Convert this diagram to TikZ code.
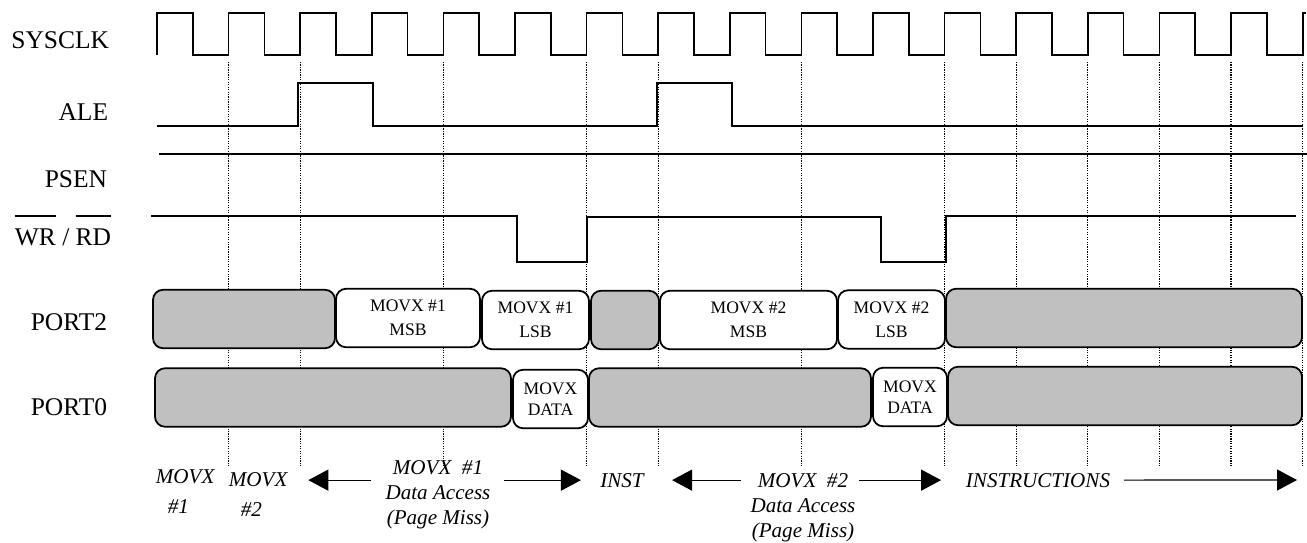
\documentclass[tikz,border=0pt]{standalone}
\usepackage{fontspec}
\setmainfont{Liberation Serif}
\usetikzlibrary{arrows.meta}
\definecolor{slotgray}{RGB}{192,192,192}
\newcommand{\sigbar}[1]{\setbox0\hbox{#1}\rlap{\rule[16pt]{\wd0}{0.9pt}}\box0\relax}

\begin{document}
\begin{tikzpicture}[x=0.02cm,y=-0.02cm,line width=1pt,
  lbl/.style={anchor=base east,inner sep=0,font=\fontsize{14.5}{17}\selectfont},
  slot/.style={draw,rounded corners=0.2cm,inner sep=0,align=center,minimum height=1.17cm},
  busy/.style={slot,fill=slotgray},
  addr/.style={slot,fill=white,font=\fontsize{10}{13.7}\selectfont},
  data/.style={slot,fill=white,font=\fontsize{10}{12.3}\selectfont},
  note/.style={inner sep=0,font=\itshape\fontsize{12}{14.2}\selectfont},
  tick/.style={line width=0.7pt,dash pattern=on 0.7pt off 0.7pt},
  span/.style={-{Triangle[length=0.4cm,width=0.42cm]},line width=0.7pt}]
\useasboundingbox (0,0) rectangle (1307,542);

% clock edges that are marked
\foreach \k in {1,2,4,6,7,9,11,12,13,14,15,16}
  \draw[tick] ({157+71.6*\k},62) -- ({157+71.6*\k},466);

% signal names
\node[lbl] (clk) at (110,48) {SYSCLK};
\node[lbl] (ale) at (109,120) {ALE};
\node[lbl] (psen) at (108,187) {PSEN};
\node[lbl] (wrrd) at (112,245) {\sigbar{WR} / \sigbar{RD}};
\node[lbl] (port2) at (108,330) {PORT2};
\node[lbl] (port0) at (108,415) {PORT0};

% waveforms
\draw (157,55) \foreach \k in {0,...,15}{ -- ++(0,-42) -- ++(35.8,0) -- ++(0,42) -- ++(35.8,0)} -- ++(0,-42) -- ++(3,0);
\draw (157,126) -- (298,126) -- (298,83) -- (373,83) -- (373,126) -- (657,126) -- (657,83) -- (732,83) -- (732,126) -- (1303,126);
\draw (159,154) -- (1307,154);
\draw (151,216) -- (517,216) -- (517,262) -- (587,262) -- (587,217) -- (881,217) -- (881,262) -- (946,262) -- (946,216) -- (1296,216);

% PORT2
\node[busy,minimum width=3.64cm] (p2a) at (244,319) {};
\node[addr,minimum width=2.88cm] (p2b) at (408,318) {MOVX \#1\\MSB};
\node[addr,minimum width=2.14cm] (p2c) at (535.5,320) {MOVX \#1\\LSB};
\node[busy,minimum width=1.36cm] (p2d) at (625,320) {};
\node[addr,minimum width=3.54cm] (p2e) at (748.5,320) {MOVX \#2\\MSB};
\node[addr,minimum width=2.14cm] (p2f) at (891.5,319.5) {MOVX \#2\\LSB};
\node[busy,minimum width=7.12cm] (p2g) at (1124,318) {};

% PORT0
\node[busy,minimum width=7.12cm] (p0a) at (333,397.5) {};
\node[data,minimum width=1.5cm] (p0b) at (550.5,399) {MOVX\\DATA};
\node[busy,minimum width=5.64cm] (p0c) at (730,397.5) {};
\node[data,minimum width=1.48cm] (p0d) at (910,397) {MOVX\\DATA};
\node[busy,minimum width=7.08cm] (p0e) at (1125,396) {};

% phases
\node[note,align=left,anchor=north west,font=\itshape\fontsize{12}{17}\selectfont] (m1) at (155,469) {MOVX\\\hspace*{0.24cm}\#1};
\node[note,align=left,anchor=north west,font=\itshape\fontsize{12}{17}\selectfont] (m2) at (228,472) {MOVX\\\hspace*{0.24cm}\#2};
\node[note,align=center,anchor=north] (acc1) at (438,460) {MOVX~~\#1\\Data Access\\(Page Miss)};
\node[note,anchor=base] (inst) at (622,487) {INST};
\node[note,align=center,anchor=north] (acc2) at (803,473) {MOVX~~\#2\\Data Access\\(Page Miss)};
\node[note,anchor=base] (instr) at (1038,487) {INSTRUCTIONS};
\coordinate (fin) at (1297,480);

\draw[span,shorten <=0.27cm,shorten >=0.4cm] (acc1.west |- inst) -- (m2.east |- inst);
\draw[span,shorten <=0.25cm,shorten >=0.37cm] (acc1.east |- inst) -- (inst.west);
\draw[span,shorten <=0.17cm,shorten >=0.55cm] (acc2.west |- inst) -- (inst.east);
\draw[span,shorten <=0.05cm,shorten >=0.48cm] (acc2.east |- inst) -- (instr.west);
\draw[span,shorten <=0.26cm] (instr.east) -- (fin);
\end{tikzpicture}
\end{document}
